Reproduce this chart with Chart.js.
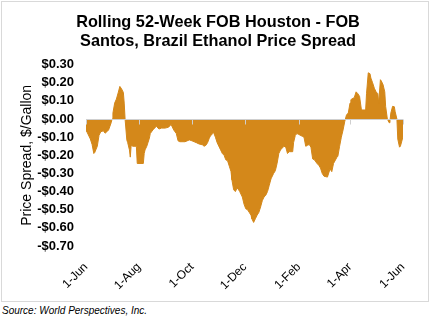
<!DOCTYPE html>
<html>
<head>
<meta charset="utf-8">
<script src="https://cdn.jsdelivr.net/npm/chart.js@4.4.1/dist/chart.umd.min.js"></script>
<style>
  html,body{margin:0;padding:0;background:#fff;}
  #frame{position:absolute;left:1px;top:1px;width:426px;height:299px;border:1px solid #d9d9d9;}
  #src{position:absolute;left:2px;top:305px;font:italic 10px "Liberation Sans",Arial,sans-serif;color:#000;white-space:nowrap;}
</style>
</head>
<body>
<div id="frame"><canvas id="c" width="426" height="299"></canvas></div>
<div id="src">Source: World Perspectives, Inc.</div>
<script>
// Days since 1-Jun
const days = [0,1,5,7,9,10,13,15,17,20,22,24,26,29,30,31,33,35,37,39,41,43,44,45,47,48,50,51,52,54,58,59,61,66,67,68,70,73,74,77,81,84,87,91,95,98,101,104,106,108,114,119,122,127,130,134,136,138,140,142,144,145,147,149,151,155,157,159,161,163,165,167,168,170,172,174,175,177,180,182,184,186,188,190,191,193,195,197,199,201,203,205,207,209,211,213,214,216,218,220,222,224,226,228,230,232,234,238,239,241,243,245,249,251,253,255,257,259,261,263,266,268,270,272,274,278,281,283,285,289,290,292,294,296,298,300,302,304,305,308,309,311,313,315,317,318,322,323,325,327,328,330,332,334,336,337,339,340,342,344,345,347,349,350,351,353,355,356,358,359,361,362,364,365];
// Spread, $/gallon
const spread = [-0.03,-0.07,-0.11,-0.14,-0.19,-0.185,-0.15,-0.09,-0.07,-0.065,-0.078,-0.07,-0.06,-0.02,0.0,0.033,0.088,0.11,0.144,0.18,0.166,0.147,0.088,0.0,-0.115,-0.13,-0.17,-0.21,-0.145,-0.15,-0.15,-0.245,-0.245,-0.245,-0.19,-0.17,-0.15,-0.105,-0.08,-0.06,-0.04,-0.055,-0.05,-0.05,-0.045,-0.03,-0.06,-0.08,-0.12,-0.125,-0.125,-0.115,-0.12,-0.13,-0.137,-0.142,-0.15,-0.145,-0.13,-0.105,-0.087,-0.08,-0.075,-0.1,-0.13,-0.17,-0.19,-0.2,-0.225,-0.23,-0.26,-0.29,-0.335,-0.39,-0.4,-0.38,-0.385,-0.4,-0.43,-0.47,-0.495,-0.5,-0.515,-0.53,-0.55,-0.57,-0.55,-0.53,-0.515,-0.485,-0.45,-0.43,-0.42,-0.4,-0.365,-0.33,-0.32,-0.3,-0.285,-0.245,-0.19,-0.17,-0.16,-0.15,-0.155,-0.19,-0.18,-0.18,-0.13,-0.09,-0.08,-0.085,-0.095,-0.1,-0.15,-0.145,-0.14,-0.155,-0.22,-0.225,-0.245,-0.255,-0.27,-0.3,-0.315,-0.32,-0.275,-0.29,-0.245,-0.21,-0.205,-0.15,-0.1,-0.06,-0.012,0.024,0.033,0.088,0.107,0.116,0.12,0.15,0.14,0.125,0.055,0.05,0.05,0.14,0.255,0.25,0.226,0.2,0.17,0.15,0.14,0.088,0.217,0.21,0.19,0.15,0.07,0.0,-0.02,-0.01,0.033,0.07,0.068,0.04,0.0,-0.11,-0.155,-0.15,-0.115,-0.1];
const tickDays = [0,61,122,183,245,304,365];
const tickLabels = ['1-Jun','1-Aug','1-Oct','1-Dec','1-Feb','1-Apr','1-Jun'];
const titleLines = ['Rolling 52-Week FOB Houston - FOB','Santos, Brazil Ethanol Price Spread'];

const FONT = '"Liberation Sans", Arial, sans-serif';
const zeroLine = {
  id: 'zeroLine',
  afterDatasetsDraw(chart) {
    const {ctx, chartArea, scales} = chart;
    const y0 = Math.round(scales.y.getPixelForValue(0)) + 0.5;
    ctx.save();
    ctx.strokeStyle = '#cfcfcf';
    ctx.lineWidth = 1;
    ctx.beginPath();
    ctx.moveTo(chartArea.left, y0);
    ctx.lineTo(chartArea.right, y0);
    tickDays.forEach(d => {
      const px = Math.round(scales.x.getPixelForValue(d)) + 0.5;
      ctx.moveTo(px, y0);
      ctx.lineTo(px, y0 + 5);
    });
    ctx.stroke();
    ctx.restore();
  }
};

new Chart(document.getElementById('c'), {
  type: 'line',
  data: {
    datasets: [{
      data: days.map((d, i) => ({x: d, y: spread[i]})),
      fill: 'origin',
      backgroundColor: '#d4881a',
      borderColor: '#d4881a',
      borderWidth: 1,
      pointRadius: 0,
      tension: 0
    }]
  },
  options: {
    responsive: false,
    animation: false,
    devicePixelRatio: 1,
    layout: {padding: {left: 31, right: 25, top: 0, bottom: 0}},
    plugins: {
      legend: {display: false},
      tooltip: {enabled: false},
      title: {
        display: true,
        text: titleLines,
        color: '#000',
        font: {family: FONT, size: 16.3, weight: 'bold', lineHeight: 1.17},
        padding: {top: 10.5, bottom: 14}
      }
    },
    scales: {
      x: {
        type: 'linear',
        min: 0, max: 365,
        grid: {display: false},
        border: {display: false},
        afterBuildTicks: s => { s.ticks = tickDays.map(v => ({value: v})); },
        afterFit: s => { s.height = 55; },
        ticks: {
          autoSkip: false, maxRotation: 45, minRotation: 45,
          color: '#000', padding: 6,
          font: {family: FONT, size: 12},
          callback: (v, i) => tickLabels[i]
        }
      },
      y: {
        min: -0.7, max: 0.3,
        grid: {display: false, drawTicks: false},
        border: {display: false},
        afterFit: s => { s.width = 53; },
        ticks: {
          stepSize: 0.1, padding: 12, autoSkip: false,
          color: '#000',
          font: {family: FONT, size: 13, weight: 'bold'},
          callback: v => {
            if (Math.abs(v) < 1e-9) return '$0.00';
            return (v < 0 ? '-$' : '$') + Math.abs(v).toFixed(2);
          }
        },
        title: {
          display: true,
          text: 'Price Spread, $/Gallon',
          color: '#000',
          font: {family: FONT, size: 14},
          padding: {top: -14.4, bottom: 0}
        }
      }
    }
  },
  plugins: [zeroLine]
});
</script>
</body>
</html>
